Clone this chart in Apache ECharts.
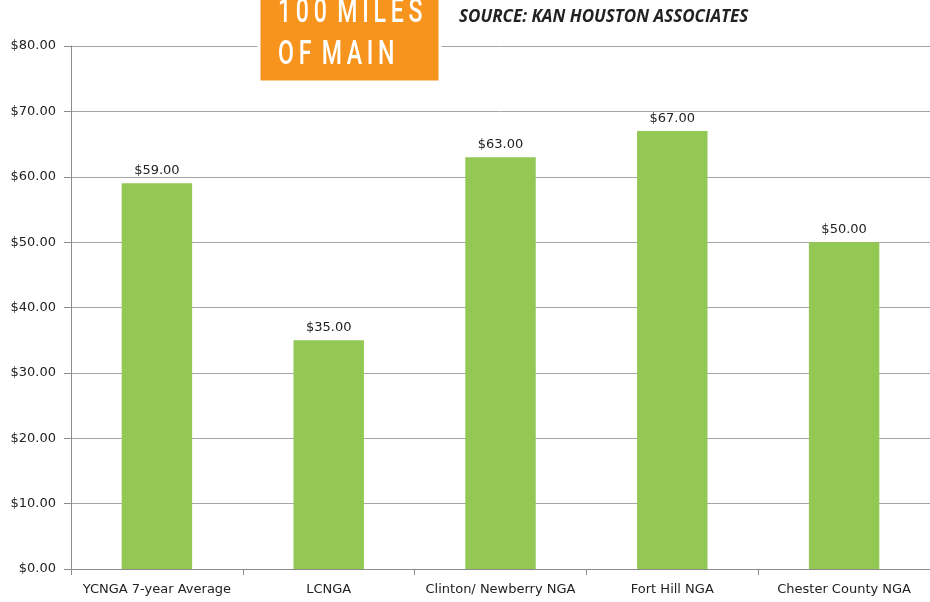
<!DOCTYPE html>
<html>
<head>
<meta charset="utf-8">
<script src="https://cdn.jsdelivr.net/npm/echarts@6/dist/echarts.min.js"></script>
<style>
  html, body { margin: 0; padding: 0; background: #fff; }
  #chart { width: 930px; height: 602px; }
</style>
</head>
<body>
<div id="chart"></div>
<script>
const categories = ['YCNGA 7-year Average', 'LCNGA', 'Clinton/ Newberry NGA', 'Fort Hill NGA', 'Chester County NGA']
const values = [59, 35, 63, 67, 50]
const yTicks = [0, 10, 20, 30, 40, 50, 60, 70, 80]

const font = 'DejaVu Sans'
const boxFont = '500 34px Roboto, sans-serif'
const sp = '\u2009'

const option = {
  animation: false,
  grid: {
    left: 71,
    right: -11,
    top: 46,
    bottom: 33
  },
  xAxis: {
    type: 'category',
    data: categories,
    axisLine: { lineStyle: { color: '#8c8c8c', width: 1 } },
    axisTick: { show: true, length: 6, lineStyle: { color: '#8c8c8c' } },
    axisLabel: { interval: 0, color: '#222', fontFamily: font, fontSize: 13, margin: 14 }
  },
  yAxis: {
    type: 'value',
    min: yTicks[0],
    max: yTicks[yTicks.length - 1],
    interval: 10,
    axisLine: { show: true, lineStyle: { color: '#8c8c8c' } },
    axisTick: { show: true, length: 7, lineStyle: { color: '#8c8c8c' } },
    splitLine: { lineStyle: { color: '#a6a6a6' } },
    axisLabel: {
      color: '#222', fontFamily: font, fontSize: 13, margin: 15,
      formatter: v => '$' + v.toFixed(2)
    }
  },
  series: [
    {
      type: 'bar',
      data: values,
      barWidth: '41%',
      itemStyle: { color: '#92c853' },
      label: {
        show: true,
        position: 'top',
        distance: 6,
        color: '#222',
        fontFamily: font,
        fontSize: 13,
        formatter: p => '$' + p.value.toFixed(2)
      }
    }
  ],
  graphic: [
    {
      type: 'rect',
      z: 100,
      shape: { x: 259, y: -2, width: 181, height: 84 },
      style: { fill: '#f7941d', stroke: '#fff', lineWidth: 3 }
    },
    {
      type: 'text',
      z: 101,
      x: 278,
      y: -4,
      scaleX: 0.68,
      style: {
        text: ['1', '0', '0', ' M', 'I', 'L', 'E', 'S'].join(sp),
        fill: '#fff',
        font: boxFont
      }
    },
    {
      type: 'text',
      z: 101,
      x: 278,
      y: 38,
      scaleX: 0.68,
      style: {
        text: ['O', 'F', ' M', 'A', 'I', 'N'].join(sp),
        fill: '#fff',
        font: boxFont
      }
    },
    {
      type: 'text',
      z: 101,
      x: 459,
      y: 9,
      style: {
        text: 'SOURCE: KAN HOUSTON ASSOCIATES',
        fill: '#222',
        font: 'italic bold 17px "Open Sans", sans-serif'
      }
    }
  ]
}

const chart = echarts.init(document.getElementById('chart'))
chart.setOption(option)
</script>
</body>
</html>
